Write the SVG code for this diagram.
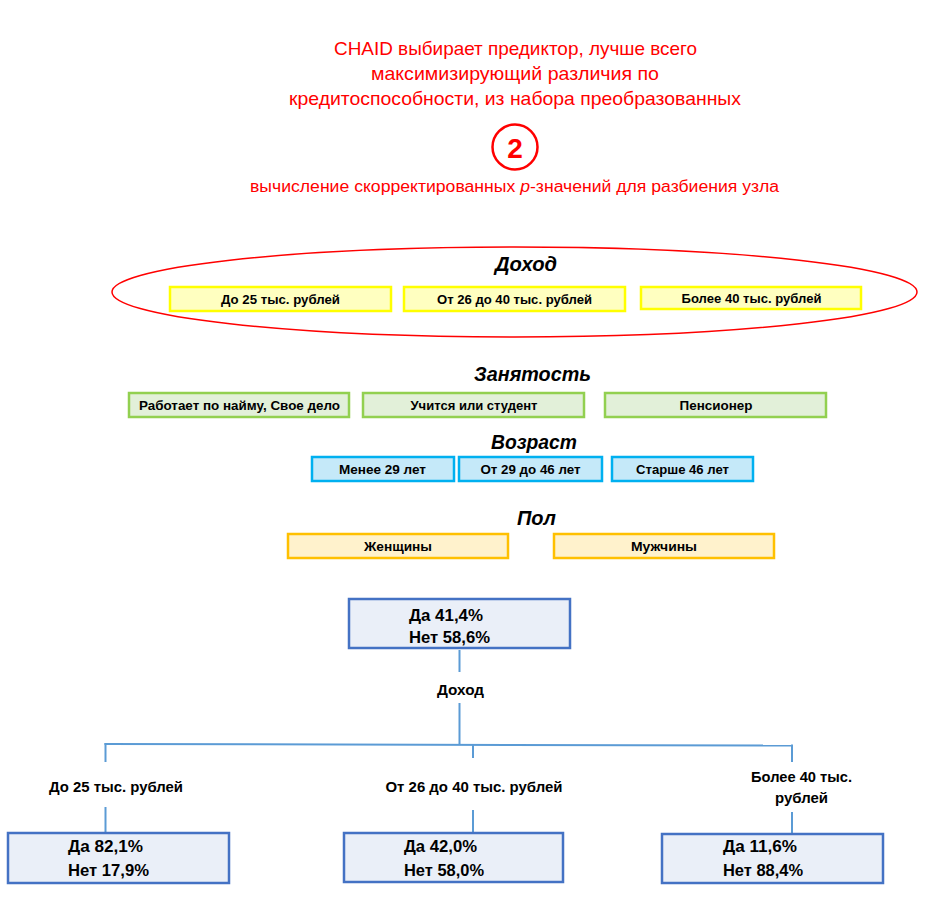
<svg xmlns="http://www.w3.org/2000/svg" width="931" height="898" viewBox="0 0 931 898">
<style>
text{font-family:"Liberation Sans",Arial,sans-serif;}
.title{fill:#FF0000;font-size:18.5px;text-anchor:middle;}
.sub{fill:#FF0000;font-size:16px;text-anchor:middle;}
.hdr{font-size:21px;font-weight:bold;font-style:italic;text-anchor:middle;fill:#000;}
.cat{font-size:13.5px;font-weight:bold;text-anchor:middle;fill:#000;}
.lbl{font-size:15px;font-weight:bold;text-anchor:middle;fill:#000;}
.val{font-size:16px;font-weight:bold;fill:#000;}
.yel{fill:#FFFFC0;stroke:#FFFF00;stroke-width:2.5;}
.grn{fill:#E2F0D9;stroke:#92D050;stroke-width:2.5;}
.blu{fill:#C5E9F9;stroke:#00B0F0;stroke-width:2.5;}
.org{fill:#FFF2CC;stroke:#FFC000;stroke-width:2.5;}
.node{fill:#EAEFF8;stroke:#4472C4;stroke-width:2.5;}
.conn{stroke:#5B9BD5;stroke-width:2;fill:none;}
</style>

<g id="title">
<text class="title" x="515.5" y="55" textLength="363" lengthAdjust="spacingAndGlyphs">CHAID выбирает предиктор, лучше всего</text>
<text class="title" x="515" y="80" textLength="288" lengthAdjust="spacingAndGlyphs">максимизирующий различия по</text>
<text class="title" x="515" y="105" textLength="452" lengthAdjust="spacingAndGlyphs">кредитоспособности, из набора преобразованных</text>
</g>
<g id="step2">
<circle cx="515" cy="147" r="22.5" fill="none" stroke="#FF0000" stroke-width="2.5"/>
<text x="515" y="157.5" font-size="28" font-weight="bold" fill="#FF0000" text-anchor="middle">2</text>
</g>
<g id="subtitle">
<text class="sub" x="514.5" y="192" textLength="529" lengthAdjust="spacingAndGlyphs">вычисление скорректированных <tspan font-style="italic">p</tspan>-значений для разбиения узла</text>
</g>

<g id="income-group">
<ellipse cx="514.5" cy="292" rx="402.5" ry="45" fill="none" stroke="#FF0000" stroke-width="1.5"/>
<text class="hdr" x="526" y="270.5" textLength="62" lengthAdjust="spacingAndGlyphs">Доход</text>
</g>
<g id="inc1"><rect class="yel" x="170" y="287" width="221" height="24"/><text class="cat" x="280.5" y="303.5" textLength="119" lengthAdjust="spacingAndGlyphs">До 25 тыс. рублей</text></g>
<g id="inc2"><rect class="yel" x="404" y="287" width="221" height="24"/><text class="cat" x="514.5" y="303.5" textLength="155" lengthAdjust="spacingAndGlyphs">От 26 до 40 тыс. рублей</text></g>
<g id="inc3"><rect class="yel" x="641" y="287" width="220" height="22"/><text class="cat" x="751.5" y="302.5" textLength="140" lengthAdjust="spacingAndGlyphs">Более 40 тыс. рублей</text></g>

<g id="employment-hdr"><text class="hdr" x="532.5" y="381" textLength="117" lengthAdjust="spacingAndGlyphs">Занятость</text></g>
<g id="emp1"><rect class="grn" x="129" y="393" width="220" height="24"/><text class="cat" x="239.5" y="409.5" textLength="201" lengthAdjust="spacingAndGlyphs">Работает по найму, Свое дело</text></g>
<g id="emp2"><rect class="grn" x="363" y="393" width="221" height="24"/><text class="cat" x="474" y="409.5" textLength="127" lengthAdjust="spacingAndGlyphs">Учится или студент</text></g>
<g id="emp3"><rect class="grn" x="605" y="393" width="221" height="24"/><text class="cat" x="716" y="409.5" textLength="73" lengthAdjust="spacingAndGlyphs">Пенсионер</text></g>

<g id="age-hdr"><text class="hdr" x="534" y="449" textLength="86" lengthAdjust="spacingAndGlyphs">Возраст</text></g>
<g id="age1"><rect class="blu" x="312" y="457" width="142" height="24"/><text class="cat" x="382.5" y="473.5" textLength="87" lengthAdjust="spacingAndGlyphs">Менее 29 лет</text></g>
<g id="age2"><rect class="blu" x="459" y="457" width="143" height="24"/><text class="cat" x="530.5" y="473.5" textLength="100" lengthAdjust="spacingAndGlyphs">От 29 до 46 лет</text></g>
<g id="age3"><rect class="blu" x="612" y="457" width="141" height="24"/><text class="cat" x="682.5" y="473.5" textLength="93" lengthAdjust="spacingAndGlyphs">Старше 46 лет</text></g>

<g id="sex-hdr"><text class="hdr" x="536.5" y="525" textLength="39" lengthAdjust="spacingAndGlyphs">Пол</text></g>
<g id="sex1"><rect class="org" x="288" y="534" width="220" height="24"/><text class="cat" x="398" y="550.5" textLength="68" lengthAdjust="spacingAndGlyphs">Женщины</text></g>
<g id="sex2"><rect class="org" x="554" y="534" width="220" height="24"/><text class="cat" x="664" y="550.5" textLength="66" lengthAdjust="spacingAndGlyphs">Мужчины</text></g>

<g id="connectors">
<line class="conn" x1="459.5" y1="650" x2="459.5" y2="672"/>
<line class="conn" x1="459.5" y1="703" x2="459.5" y2="744.5"/>
<line class="conn" x1="104.5" y1="744" x2="793" y2="745.5"/>
<line class="conn" x1="105.5" y1="743" x2="105.5" y2="762"/>
<line class="conn" x1="473" y1="745" x2="473" y2="758"/>
<line class="conn" x1="792" y1="744.5" x2="792" y2="762"/>
<line class="conn" x1="105.5" y1="807" x2="105.5" y2="832"/>
<line class="conn" x1="473" y1="810" x2="473" y2="832"/>
<line class="conn" x1="792" y1="812" x2="792" y2="833"/>
</g>
<g id="split-label"><text class="lbl" x="460.5" y="695" textLength="47" lengthAdjust="spacingAndGlyphs">Доход</text></g>
<g id="edge-labels">
<text class="lbl" x="116" y="792" textLength="134" lengthAdjust="spacingAndGlyphs">До 25 тыс. рублей</text>
<text class="lbl" x="474" y="792" textLength="177" lengthAdjust="spacingAndGlyphs">От 26 до 40 тыс. рублей</text>
<text class="lbl" x="801.5" y="782" textLength="101" lengthAdjust="spacingAndGlyphs">Более 40 тыс.</text>
<text class="lbl" x="801.5" y="803" textLength="53" lengthAdjust="spacingAndGlyphs">рублей</text>
</g>

<g id="root"><rect class="node" x="349" y="599" width="221" height="49"/>
<text class="val" x="409" y="621" textLength="74" lengthAdjust="spacingAndGlyphs">Да 41,4%</text>
<text class="val" x="409" y="643" textLength="81" lengthAdjust="spacingAndGlyphs">Нет 58,6%</text></g>
<g id="leaf1"><rect class="node" x="8" y="833" width="221" height="50"/>
<text class="val" x="68" y="852" textLength="75" lengthAdjust="spacingAndGlyphs">Да 82,1%</text>
<text class="val" x="68" y="876" textLength="81" lengthAdjust="spacingAndGlyphs">Нет 17,9%</text></g>
<g id="leaf2"><rect class="node" x="344" y="833" width="219" height="49"/>
<text class="val" x="404" y="852" textLength="73" lengthAdjust="spacingAndGlyphs">Да 42,0%</text>
<text class="val" x="404" y="876" textLength="80" lengthAdjust="spacingAndGlyphs">Нет 58,0%</text></g>
<g id="leaf3"><rect class="node" x="662" y="834" width="221" height="49"/>
<text class="val" x="723" y="852" textLength="74" lengthAdjust="spacingAndGlyphs">Да 11,6%</text>
<text class="val" x="723" y="876" textLength="80" lengthAdjust="spacingAndGlyphs">Нет 88,4%</text></g>
</svg>
